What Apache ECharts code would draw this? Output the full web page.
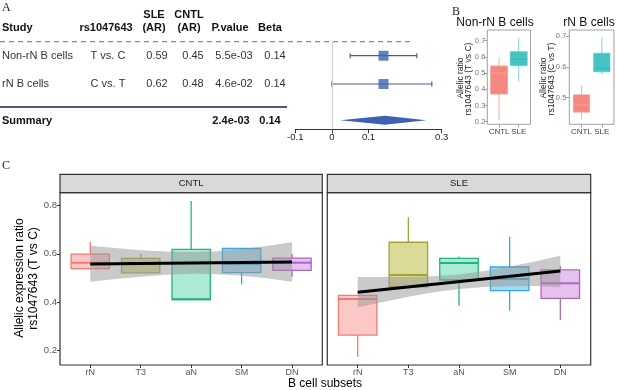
<!DOCTYPE html>
<html><head><meta charset="utf-8">
<script src="https://cdn.jsdelivr.net/npm/echarts@6/dist/echarts.min.js"></script>
<style>html,body{margin:0;padding:0;background:#fff}#c{width:617px;height:390px}</style>
</head><body><div id="c"></div>
<script>
// ---------- Panel A: forest table + plot ----------
const headers = ['Study', 'rs1047643', 'SLE\n(AR)', 'CNTL\n(AR)', 'P.value', 'Beta'];
const studies = ['Non-rN B cells', 'rN B cells'];
const alleles = ['T vs. C', 'C vs. T'];
const sleAR = ['0.59', '0.62'];
const cntlAR = ['0.45', '0.48'];
const pValues = ['5.5e-03', '4.6e-02'];
const betas = ['0.14', '0.14'];
const summaryLabel = 'Summary';
const summaryP = '2.4e-03';
const summaryBeta = '0.14';
const betaEst = [0.141, 0.141];
const ciLow = [0.05, 0.0];
const ciHigh = [0.232, 0.273];
const summaryEst = 0.145, summaryLow = 0.023, summaryHigh = 0.258;
const forestTicks = [-0.1, 0, 0.1, 0.3];
const studyRows = [1, 2];
const summaryRow = 3.28;

// ---------- Panel B: boxplots [min, q1, median, q3, max] ----------
const groupsB = ['CNTL', 'SLE'];
const nonRNBox = [[0.21, 0.371, 0.50, 0.544, 0.597], [0.45, 0.546, 0.585, 0.632, 0.715]];
const rNBox = [[0.43, 0.453, 0.476, 0.509, 0.539], [0.576, 0.584, 0.595, 0.644, 0.695]];
const nonRNTicks = [0.2, 0.3, 0.4, 0.5, 0.6, 0.7];
const rNTicks = [0.5, 0.6, 0.7];

// ---------- Panel C ----------
const facets = ['CNTL', 'SLE'];
const subsets = ['rN', 'T3', 'aN', 'SM', 'DN'];
const cntlBox = [
  [0.535, 0.538, 0.563, 0.599, 0.650],
  [0.521, 0.521, 0.560, 0.581, 0.599],
  [0.410, 0.410, 0.411, 0.618, 0.819],
  [0.473, 0.522, 0.558, 0.622, 0.622],
  [0.505, 0.531, 0.563, 0.582, 0.600]
];
const sleBox = [
  [0.172, 0.262, 0.412, 0.427, 0.427],
  [0.463, 0.463, 0.512, 0.648, 0.752],
  [0.384, 0.491, 0.562, 0.581, 0.589],
  [0.363, 0.447, 0.495, 0.545, 0.671],
  [0.325, 0.415, 0.477, 0.533, 0.549]
];
const fitX = [1, 5];
const cntlFit = [0.558, 0.566];
const sleFit = [0.440, 0.528];
const bandX = [1, 1.5, 2, 2.5, 3, 3.5, 4, 4.5, 5];
const cntlLo = [0.484, 0.495, 0.505, 0.513, 0.517, 0.515, 0.509, 0.498, 0.484];
const cntlHi = [0.633, 0.624, 0.615, 0.609, 0.607, 0.611, 0.619, 0.632, 0.648];
const sleLo = [0.378, 0.400, 0.421, 0.440, 0.454, 0.462, 0.465, 0.466, 0.462];
const sleHi = [0.504, 0.503, 0.504, 0.507, 0.514, 0.528, 0.547, 0.568, 0.592];
const cTicks = [0.2, 0.4, 0.6, 0.8];

const FONT = '"Liberation Sans", Arial, sans-serif';
const SERIF = '"Liberation Serif", "DejaVu Serif", serif';
const subsetStroke = ['#F07C72', '#A3A23A', '#22B47A', '#35A8DE', '#B066C4'];
const subsetFill = ['rgba(248,118,109,0.4)', 'rgba(163,165,0,0.4)', 'rgba(0,191,125,0.32)', 'rgba(0,150,220,0.35)', 'rgba(190,100,210,0.4)'];
const bStroke = ['#F59A92', '#5CCACA'];
const bFill = ['#F4877E', '#45C2C2'];
const bMedian = ['#F7A8A1', '#36B3B3'];

const chart = echarts.init(document.getElementById('c'), null, {renderer: 'canvas', width: 617, height: 390});

function boxSeries(xi, boxes, half, stroke, fill, median, lw, mlw) {
  return {
    type: 'custom', xAxisIndex: xi, yAxisIndex: xi, z: 2,
    data: boxes.map((b, i) => [i + 1, b[0], b[1], b[2], b[3], b[4]]),
    encode: {x: 0, y: [1, 2, 3, 4, 5]},
    renderItem: function (params, api) {
      const x = api.value(0);
      const mn = api.value(1), q1 = api.value(2), md = api.value(3), q3 = api.value(4), mx = api.value(5);
      const pTL = api.coord([x - half, q3]);
      const pBR = api.coord([x + half, q1]);
      const pMin = api.coord([x, mn]), pMax = api.coord([x, mx]);
      const pQ1 = api.coord([x, q1]), pQ3 = api.coord([x, q3]), pMd = api.coord([x, md]);
      const i = params.dataIndex;
      return {type: 'group', children: [
        {type: 'line', shape: {x1: pMax[0], y1: pMax[1], x2: pQ3[0], y2: pQ3[1]}, style: {stroke: stroke[i], lineWidth: lw}},
        {type: 'line', shape: {x1: pQ1[0], y1: pQ1[1], x2: pMin[0], y2: pMin[1]}, style: {stroke: stroke[i], lineWidth: lw}},
        {type: 'rect', shape: {x: pTL[0], y: pTL[1], width: pBR[0] - pTL[0], height: pBR[1] - pTL[1]}, style: {fill: fill[i], stroke: stroke[i], lineWidth: lw}},
        {type: 'line', shape: {x1: pTL[0], y1: pMd[1], x2: pBR[0], y2: pMd[1]}, style: {stroke: median[i], lineWidth: mlw}}
      ]};
    }
  };
}

function bandSeries(xi, lo, hi) {
  return {
    type: 'custom', xAxisIndex: xi, yAxisIndex: xi, z: 3,
    data: bandX.map((x, i) => [x, lo[i], hi[i]]),
    encode: {x: 0, y: [1, 2]},
    renderItem: function (params, api) {
      if (params.dataIndex !== 0) return null;
      const pts = [];
      for (let i = 0; i < bandX.length; i++) pts.push(api.coord([bandX[i], lo[i]]));
      for (let i = bandX.length - 1; i >= 0; i--) pts.push(api.coord([bandX[i], hi[i]]));
      return {type: 'polygon', shape: {points: pts, smooth: 0}, style: {fill: 'rgba(150,150,150,0.5)'}};
    }
  };
}

function lineSeries(xi, ys) {
  return {
    type: 'line', xAxisIndex: xi, yAxisIndex: xi, z: 4,
    data: fitX.map((x, i) => [x, ys[i]]),
    symbol: 'none', lineStyle: {color: '#000', width: 3}, silent: true
  };
}

function catXAxis(gi, cats, min, max, labelColor, fs, tickColor) {
  const vals = cats.map((c, i) => i + 1);
  return {
    type: 'value', gridIndex: gi, min: min, max: max,
    axisLine: {show: false},
    splitLine: {show: false},
    axisTick: {show: true, customValues: vals, length: 3, lineStyle: {color: tickColor}},
    axisLabel: {customValues: vals, formatter: v => cats[Math.round(v) - 1], color: labelColor, fontSize: fs, fontFamily: FONT, margin: 3}
  };
}

function valYAxis(gi, min, max, ticks, show, color, fs, tickColor, margin) {
  return {
    type: 'value', gridIndex: gi, min: min, max: max,
    axisLine: {show: false},
    splitLine: {show: false},
    axisTick: {show: show, customValues: ticks, length: 3, lineStyle: {color: tickColor}},
    axisLabel: {show: show, customValues: ticks, formatter: v => v.toFixed(1), color: color, fontSize: fs, fontFamily: FONT, margin: margin}
  };
}

const option = {
  animation: false,
  backgroundColor: '#fff',
  grid: [
    {left: 295.3, top: 41.7, width: 146.4, height: 87.6},
    {left: 487.3, top: 30, width: 43.2, height: 94.3, show: true, borderColor: '#A0A0A0', borderWidth: 1},
    {left: 569.3, top: 30, width: 44.7, height: 94.3, show: true, borderColor: '#A0A0A0', borderWidth: 1},
    {left: 60, top: 192.7, width: 262.3, height: 172.3, show: true, borderColor: '#333', borderWidth: 1.2},
    {left: 327.3, top: 192.7, width: 263.4, height: 172.3, show: true, borderColor: '#333', borderWidth: 1.2}
  ],
  xAxis: [
    {
      type: 'value', gridIndex: 0, min: -0.1, max: 0.3,
      axisLine: {show: true, lineStyle: {color: '#333', width: 1}},
      splitLine: {show: false},
      axisTick: {show: true, customValues: forestTicks, length: 4, lineStyle: {color: '#333'}},
      axisLabel: {customValues: forestTicks, formatter: v => String(Math.round(v * 10) / 10), color: '#222', fontSize: 9.5, fontFamily: FONT, margin: 3}
    },
    catXAxis(1, groupsB, 0.4, 2.6, '#444', 8, '#A0A0A0'),
    catXAxis(2, groupsB, 0.4, 2.6, '#444', 8, '#A0A0A0'),
    catXAxis(3, subsets, 0.4, 5.6, '#555', 9, '#333'),
    catXAxis(4, subsets, 0.4, 5.6, '#555', 9, '#333')
  ],
  yAxis: [
    {type: 'value', gridIndex: 0, min: 0.505, max: 3.6, inverse: true, show: false},
    valYAxis(1, 0.184, 0.766, nonRNTicks, true, '#777', 7.5, '#A0A0A0', 2),
    valYAxis(2, 0.4136, 0.7195, rNTicks, true, '#777', 7.5, '#A0A0A0', 3),
    valYAxis(3, 0.1376, 0.854, cTicks, true, '#555', 9.5, '#333', 3),
    valYAxis(4, 0.1376, 0.854, cTicks, false, '#555', 9.5, '#333', 3)
  ],
  series: [
    {
      type: 'custom', xAxisIndex: 0, yAxisIndex: 0,
      data: studyRows.map((r, i) => [ciLow[i], ciHigh[i], r]),
      encode: {x: [0, 1], y: 2},
      renderItem: function (params, api) {
        const a = api.coord([api.value(0), api.value(2)]);
        const b = api.coord([api.value(1), api.value(2)]);
        const st = {stroke: '#4B5A94', lineWidth: 1.2};
        return {type: 'group', children: [
          {type: 'line', shape: {x1: a[0], y1: a[1], x2: b[0], y2: b[1]}, style: st},
          {type: 'line', shape: {x1: a[0], y1: a[1] - 2.5, x2: a[0], y2: a[1] + 2.5}, style: st},
          {type: 'line', shape: {x1: b[0], y1: b[1] - 2.5, x2: b[0], y2: b[1] + 2.5}, style: st}
        ]};
      },
      markLine: {
        silent: true, symbol: 'none', label: {show: false},
        lineStyle: {color: '#CFCFCF', width: 1.2, type: 'solid'},
        data: [{xAxis: 0}]
      }
    },
    {
      type: 'scatter', xAxisIndex: 0, yAxisIndex: 0, z: 3,
      data: studyRows.map((r, i) => [betaEst[i], r]),
      symbol: 'rect', symbolSize: 10, itemStyle: {color: '#3E62B0'}, silent: true
    },
    {
      type: 'custom', xAxisIndex: 0, yAxisIndex: 0,
      data: [[summaryLow, summaryEst, summaryHigh, summaryRow]],
      encode: {x: [0, 1, 2], y: 3},
      renderItem: function (params, api) {
        const y = api.value(3);
        const l = api.coord([api.value(0), y]);
        const m = api.coord([api.value(1), y]);
        const h = api.coord([api.value(2), y]);
        return {type: 'polygon', shape: {points: [l, [m[0], m[1] - 4.5], h, [m[0], m[1] + 4.5]]}, style: {fill: '#3C61B3'}};
      }
    },
    boxSeries(1, nonRNBox, 0.43, bStroke, bFill, bMedian, 0.8, 0.8),
    boxSeries(2, rNBox, 0.40, bStroke, bFill, bMedian, 0.8, 0.8),
    boxSeries(3, cntlBox, 0.38, subsetStroke, subsetFill, subsetStroke, 1.3, 2),
    boxSeries(4, sleBox, 0.38, subsetStroke, subsetFill, subsetStroke, 1.3, 2),
    bandSeries(3, cntlLo, cntlHi),
    bandSeries(4, sleLo, sleHi),
    lineSeries(3, cntlFit),
    lineSeries(4, sleFit)
  ]
};
chart.setOption(option);

// ---------- graphic: table, titles, strips ----------
function txt(t, x, y, opt) {
  opt = opt || {};
  return {
    type: 'text', x: x, y: y, rotation: opt.rot || 0, silent: true,
    style: {
      text: t, fill: opt.color || '#222',
      font: (opt.bold ? 'bold ' : '') + (opt.size || 11) + 'px ' + (opt.family || FONT),
      textAlign: opt.align || 'center', align: opt.align || 'center',
      textVerticalAlign: opt.va || 'middle', verticalAlign: opt.va || 'middle',
      lineHeight: opt.lh || 13
    }
  };
}
const rowY = r => chart.convertToPixel({xAxisIndex: 0, yAxisIndex: 0}, [0, r])[1];
const g = [];
// panel letters
g.push(txt('A', 2, 8, {family: SERIF, size: 12, align: 'left', color: '#222'}));
g.push(txt('B', 452, 12, {family: SERIF, size: 12, align: 'left', color: '#222'}));
g.push(txt('C', 2, 166, {family: SERIF, size: 12, align: 'left', color: '#222'}));
// table header
const headerX = [2, 106, 154, 189, 230, 270];
headers.forEach((h, i) => g.push(txt(h, headerX[i], 34.5, {bold: true, align: i === 0 ? 'left' : 'center', va: 'bottom', color: '#111'})));
// dashed and solid rules
g.push({type: 'line', silent: true, shape: {x1: 0, y1: 41.7, x2: 413, y2: 41.7}, style: {stroke: '#8A8A8A', lineWidth: 1.2, lineDash: [5, 4]}});
g.push({type: 'line', silent: true, shape: {x1: 0, y1: 107, x2: 287, y2: 107}, style: {stroke: '#1C1C4A', lineWidth: 1.6}});
// table rows
const cellX = [2, 108, 157, 193, 234, 275];
studies.forEach((s, i) => {
  const y = rowY(studyRows[i]);
  const cells = [s, alleles[i], sleAR[i], cntlAR[i], pValues[i], betas[i]];
  cells.forEach((c, j) => g.push(txt(c, cellX[j], y, {align: j === 0 ? 'left' : 'center', color: '#333'})));
});
const sy = rowY(summaryRow) + 1;
g.push(txt(summaryLabel, 2, sy, {bold: true, align: 'left', color: '#111'}));
g.push(txt(summaryP, 231, sy, {bold: true, color: '#111'}));
g.push(txt(summaryBeta, 270, sy, {bold: true, color: '#111'}));
// panel B titles and axis titles
g.push(txt('Non-rN B cells', 495, 23, {size: 12, color: '#111'}));
g.push(txt('rN B cells', 589, 23, {size: 12, color: '#111'}));
g.push(txt('Allelic ratio', 460.7, 78, {size: 8.5, rot: Math.PI / 2, color: '#222'}));
g.push(txt('rs1047643 (T vs C)', 468.5, 79, {size: 8.5, rot: Math.PI / 2, color: '#222'}));
g.push(txt('Allelic ratio', 544, 78, {size: 8.5, rot: Math.PI / 2, color: '#222'}));
g.push(txt('rs1047643 (C vs T)', 552, 79, {size: 8.5, rot: Math.PI / 2, color: '#222'}));
// panel C strips
const stripGrids = [option.grid[3], option.grid[4]];
facets.forEach((f, i) => {
  const gr = stripGrids[i];
  g.push({type: 'rect', silent: true, shape: {x: gr.left, y: 174.3, width: gr.width, height: 18.4}, style: {fill: '#D9D9D9', stroke: '#333', lineWidth: 1.2}});
  g.push(txt(f, gr.left + gr.width / 2, 183.5, {size: 9.5, color: '#1A1A1A'}));
});
// panel C axis titles
g.push(txt('Allelic expression ratio', 20, 278, {size: 12, rot: Math.PI / 2, color: '#000'}));
g.push(txt('rs1047643 (T vs C)', 34, 278.5, {size: 12, rot: Math.PI / 2, color: '#000'}));
g.push(txt('B cell subsets', 325, 384, {size: 12, color: '#000'}));

chart.setOption({graphic: g});
</script>
</body></html>
